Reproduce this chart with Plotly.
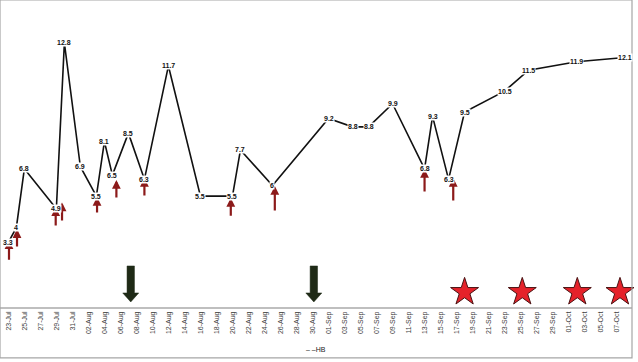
import plotly.graph_objects as go

# ---- data ----
dates = ["2021-07-23", "2021-07-24", "2021-07-25", "2021-07-29", "2021-07-30",
         "2021-08-01", "2021-08-03", "2021-08-04", "2021-08-05", "2021-08-07",
         "2021-08-09", "2021-08-12", "2021-08-16", "2021-08-20", "2021-08-21",
         "2021-08-25", "2021-09-01", "2021-09-04", "2021-09-06", "2021-09-09",
         "2021-09-13", "2021-09-14", "2021-09-16", "2021-09-18", "2021-09-23",
         "2021-09-26", "2021-10-02", "2021-10-08"]
hb = [3.3, 4, 6.8, 4.9, 12.8, 6.9, 5.5, 8.1, 6.5, 8.5, 6.3, 11.7, 5.5, 5.5, 7.7,
      6, 9.2, 8.8, 8.8, 9.9, 6.8, 9.3, 6.3, 9.5, 10.5, 11.5, 11.9, 12.1]

# red (upward) event arrows: date, head value, tail value
red_arrow_dates = ["2021-07-23 02:00", "2021-07-24 02:00", "2021-07-28 22:00",
                   "2021-07-29 17:00", "2021-08-03 02:00", "2021-08-05 12:00",
                   "2021-08-09 00:00", "2021-08-19 19:00", "2021-08-25 07:00",
                   "2021-09-13 00:00", "2021-09-16 14:00"]
red_arrow_head = [3.40, 3.93, 4.97, 5.20, 5.46, 6.27, 6.36, 5.41, 5.98, 6.79, 6.36]
red_arrow_tail = [2.40, 3.03, 4.03, 4.27, 4.65, 5.36, 5.46, 4.50, 4.74, 5.65, 5.22]

# dark downward block arrows (tip value)
black_arrow_dates = ["2021-08-07 07:00", "2021-08-30 04:00"]
black_arrow_tip = [0.46, 0.46]

# stars
star_dates = ["2021-09-18 00:00", "2021-09-25 05:00", "2021-10-02 02:00", "2021-10-07 10:00"]
star_vals = [0.93, 0.93, 0.93, 0.93]

x_range = ["2021-07-21 23:00", "2021-10-08 22:00"]
y_range = [0.22, 14.84]

FONT = "Liberation Sans"

fig = go.Figure()

fig.add_trace(go.Scatter(
    x=dates, y=hb, mode="lines", name="HB",
    line=dict(color="#111111", width=1.6),
    showlegend=False, hoverinfo="x+y",
))

fig.add_trace(go.Scatter(
    x=star_dates, y=star_vals, mode="markers",
    marker=dict(symbol="star", size=21, color="#e5222a",
                line=dict(color="#4a1212", width=1)),
    showlegend=False, cliponaxis=False, hoverinfo="skip",
))

annotations = []
for d, h, t in zip(red_arrow_dates, red_arrow_head, red_arrow_tail):
    annotations.append(dict(
        x=d, y=h, ax=d, ay=t, xref="x", yref="y", axref="x", ayref="y",
        text="", showarrow=True, arrowhead=2, arrowsize=0.8, arrowwidth=2.2,
        arrowcolor="#8c1a1a", standoff=0, startstandoff=0,
    ))

for d, v in zip(dates, hb):
    annotations.append(dict(
        x=d, y=v, xref="x", yref="y", text=f"{v:g}", showarrow=False,
        font=dict(family=FONT, size=7, color="#111111", weight="bold"),
        bgcolor="white", borderpad=0,
    ))

annotations.append(dict(
    x=0.5, y=-0.137, xref="paper", yref="paper", text="– –HB", showarrow=False,
    font=dict(family=FONT, size=7, color="#222222"), xanchor="center", yanchor="middle",
))

shapes = []
arrow_path = "M 0 0 L -8 9 L -3.7 9 L -3.7 36 L 3.7 36 L 3.7 9 L 8 9 Z"
for d, v in zip(black_arrow_dates, black_arrow_tip):
    shapes.append(dict(
        type="path", xref="x", yref="y", xsizemode="pixel", ysizemode="pixel",
        xanchor=d, yanchor=v, path=arrow_path,
        fillcolor="#1f2a16", line=dict(color="#1f2a16", width=0.5),
    ))

shapes.append(dict(
    type="rect", xref="paper", yref="paper", x0=0, x1=1, y0=-0.166, y1=1,
    line=dict(color="#a6a6a6", width=1.2), fillcolor="rgba(0,0,0,0)", layer="above",
))

fig.update_layout(
    width=638, height=362,
    margin=dict(l=0, r=6, t=0, b=55),
    paper_bgcolor="white", plot_bgcolor="white",
    showlegend=False,
    annotations=annotations, shapes=shapes,
    xaxis=dict(
        type="date", range=x_range, tick0="2021-07-23", dtick=2 * 86400000,
        tickformat="%d-%b", tickangle=-90, showgrid=False, zeroline=False,
        showline=True, linecolor="#bfbfbf", linewidth=1.5, ticks="",
        tickfont=dict(family=FONT, size=7, color="#404040"),
    ),
    yaxis=dict(
        range=y_range, showgrid=False, zeroline=False, showline=False,
        showticklabels=False, ticks="",
    ),
)

fig.write_html("out.html")
